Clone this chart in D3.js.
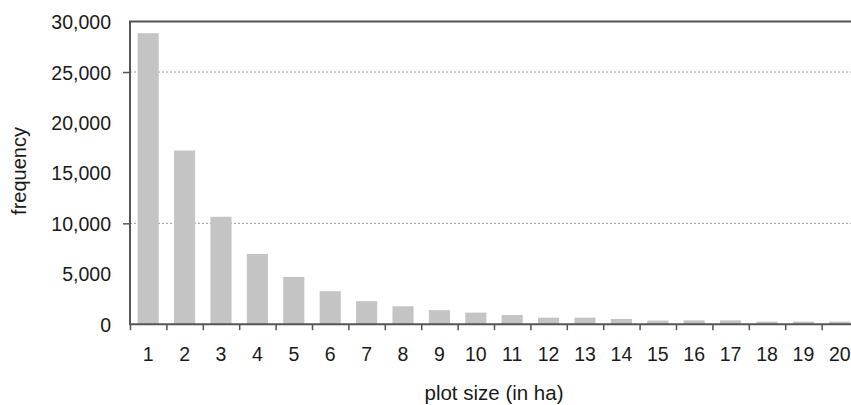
<!DOCTYPE html>
<html>
<head>
<meta charset="utf-8">
<script src="https://cdn.jsdelivr.net/npm/d3@7"></script>
<style>
  html, body { margin: 0; padding: 0; background: #fff; }
  svg { display: block; }
  text { font-family: "Liberation Sans", Arial, sans-serif; fill: #1a1a1a; }
</style>
</head>
<body>
<svg id="chart" width="851" height="405"></svg>
<script>
// ---- data ----
const categories = [1,2,3,4,5,6,7,8,9,10,11,12,13,14,15,16,17,18,19,20];
const frequency = [28850, 17220, 10650, 6970, 4690, 3270, 2280, 1780, 1390, 1150,
                   910, 650, 650, 520, 360, 380, 380, 260, 260, 260];
const yTickValues = [0, 5000, 10000, 15000, 20000, 25000, 30000];
const gridValues = [10000, 25000];
const xTitle = "plot size (in ha)";
const yTitle = "frequency";

// ---- layout ----
const svg = d3.select("#chart");
const mLeft = 130, mRight = 858, mTop = 21.6, mBottom = 324.2;

const x = d3.scaleBand().domain(categories).range([mLeft, mRight])
  .paddingInner(0.42).paddingOuter(0.21);
const xLin = d3.scaleLinear().domain([0.5, categories.length + 0.5]).range([mLeft, mRight]);
const y = d3.scaleLinear().domain([0, 30000]).range([mBottom, mTop]);

const fmt = d3.format(",");

// gridlines
svg.append("g").selectAll("line").data(gridValues).join("line")
  .attr("x1", mLeft).attr("x2", mRight)
  .attr("y1", d => y(d)).attr("y2", d => y(d))
  .attr("stroke", "#9a9a9a").attr("stroke-width", 1)
  .attr("stroke-dasharray", "2,2");

// bars
svg.append("g").selectAll("rect").data(categories).join("rect")
  .attr("x", d => x(d))
  .attr("width", x.bandwidth())
  .attr("y", (d, i) => y(frequency[i]))
  .attr("height", (d, i) => y(0) - y(frequency[i]))
  .attr("fill", "#c4c4c4");

// y axis: labels
const yAxis = svg.append("g").attr("transform", `translate(${mLeft},0)`)
  .call(d3.axisLeft(y).tickValues(yTickValues).tickFormat(fmt).tickSize(0).tickPadding(19));
yAxis.select(".domain").remove();
yAxis.selectAll("text").style("font-size", "19.5px").attr("dy", "0.36em");

// y axis: tick marks only at gridlines
const yTicks = svg.append("g").attr("transform", `translate(${mLeft},0)`)
  .call(d3.axisLeft(y).tickValues(gridValues).tickSize(7).tickFormat(""));
yTicks.select(".domain").remove();
yTicks.selectAll("line").attr("stroke", "#555").attr("stroke-width", 1.5);

// x axis labels (centres)
const xAxis = svg.append("g").attr("transform", `translate(0,${mBottom})`)
  .call(d3.axisBottom(x).tickSize(0).tickPadding(23));
xAxis.select(".domain").remove();
xAxis.selectAll("text").style("font-size", "19.5px");

// x axis boundary ticks
const boundaries = d3.range(0.5, categories.length + 1, 1);
const xTicks = svg.append("g").attr("transform", `translate(0,${mBottom})`)
  .call(d3.axisBottom(xLin).tickValues(boundaries).tickSize(6).tickFormat(""));
xTicks.select(".domain").remove();
xTicks.selectAll("line").attr("stroke", "#555").attr("stroke-width", 1.5);

// frame lines: left, bottom, top
svg.append("line").attr("x1", mLeft).attr("x2", mLeft).attr("y1", mTop).attr("y2", mBottom + 1)
  .attr("stroke", "#555").attr("stroke-width", 2);
svg.append("line").attr("x1", mLeft).attr("x2", mRight).attr("y1", mBottom).attr("y2", mBottom)
  .attr("stroke", "#555").attr("stroke-width", 2);
svg.append("line").attr("x1", mLeft - 1).attr("x2", mRight).attr("y1", mTop).attr("y2", mTop)
  .attr("stroke", "#555").attr("stroke-width", 2);

// titles
svg.append("text").attr("x", 494).attr("y", 400).attr("text-anchor", "middle")
  .style("font-size", "20.5px").text(xTitle);
svg.append("text").attr("transform", "translate(26,171) rotate(-90)")
  .attr("text-anchor", "middle").style("font-size", "20px").text(yTitle);
</script>
</body>
</html>
